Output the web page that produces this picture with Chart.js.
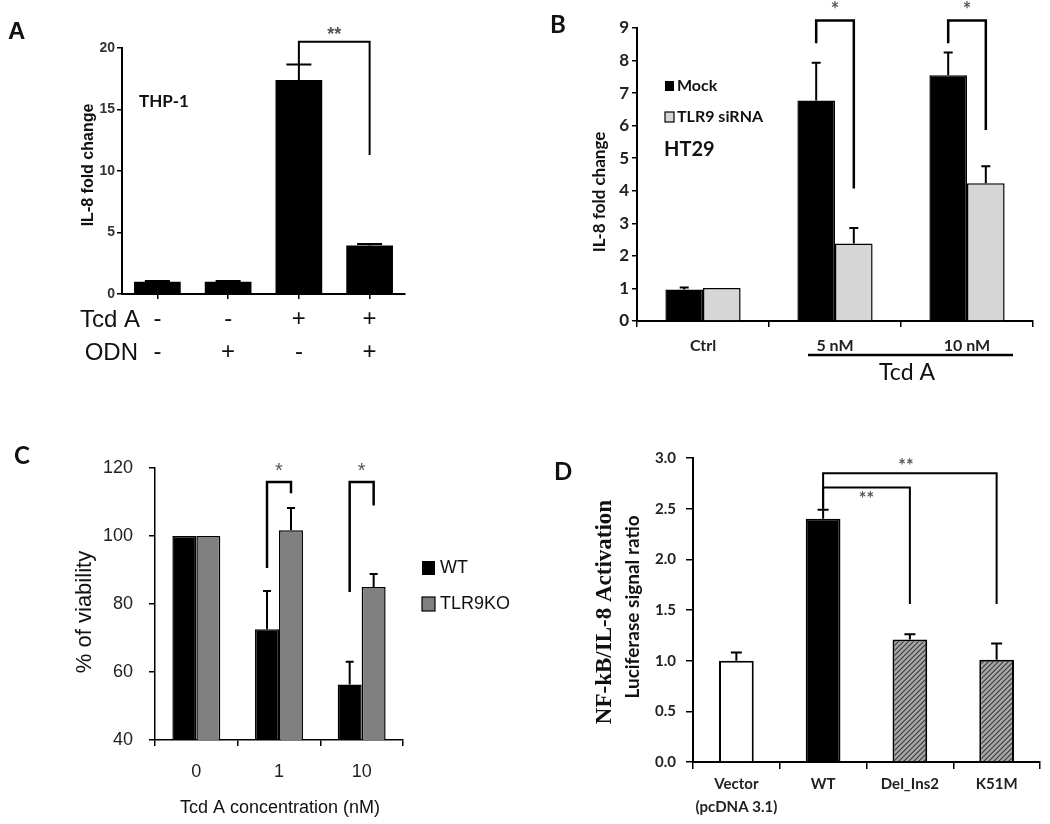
<!DOCTYPE html>
<html lang="en">
<head>
<meta charset="UTF-8">
<title>Tcd A / TLR9 figure</title>
<script src="https://cdn.jsdelivr.net/npm/chart.js"></script>
<style>
  body { margin: 0; background: #fff; }
  #fig { position: relative; width: 1050px; height: 824px; }
  canvas { position: absolute; }
</style>
</head>
<body>
<div id="fig">
  <canvas id="chartA" width="520" height="420" style="left:0;top:0"></canvas>
  <canvas id="chartB" width="530" height="420" style="left:520px;top:0"></canvas>
  <canvas id="chartC" width="520" height="404" style="left:0;top:420px"></canvas>
  <canvas id="chartD" width="530" height="404" style="left:520px;top:420px"></canvas>
</div>
<script>
// --- A: THP-1, IL-8 fold change
const labelsA = [['-', '-'], ['-', '+'], ['+', '-'], ['+', '+']];
const valuesA = [1.0, 1.0, 17.4, 3.95];
const errorsA = [0.05, 0.05, 1.25, 0.12];

// --- B: HT29, mock vs TLR9 siRNA
const labelsB = ['Ctrl', '5 nM', '10 nM'];
const mockB = [0.97, 6.77, 7.55];
const mockErrB = [0.06, 1.16, 0.7];
const sirnaB = [1.01, 2.38, 4.23];
const sirnaErrB = [0, 0.48, 0.52];

// --- C: % viability, WT vs TLR9KO
const labelsC = ['0', '1', '10'];
const wtC = [100, 72.6, 56.3];
const wtErrC = [0, 11.2, 6.7];
const koC = [100, 101.7, 85];
const koErrC = [0, 6.5, 3.8];

// --- D: luciferase signal ratio
const labelsD = [['Vector', '(pcDNA 3.1)'], 'WT', 'Del_Ins2', 'K51M'];
const valuesD = [1.0, 2.40, 1.21, 1.01];
const errorsD = [0.08, 0.09, 0.05, 0.16];

Chart.defaults.font.family = "'Liberation Sans', Arial, sans-serif";
Chart.defaults.color = '#222';
Chart.defaults.animation = false;

const CAL = "Lato, 'Noto Sans', sans-serif";

function fixWidth(w) { return s => { s.width = w; }; }
function fixHeight(h) { return s => { s.height = h; }; }

function hatch() {
    const c = document.createElement('canvas');
    c.width = 5; c.height = 5;
    const g = c.getContext('2d');
    g.fillStyle = '#a8a8a8';
    g.fillRect(0, 0, 5, 5);
    g.strokeStyle = '#3c3c3c';
    g.lineWidth = 1.2;
    g.beginPath();
    g.moveTo(0, 5); g.lineTo(5, 0);
    g.moveTo(-1, 1); g.lineTo(1, -1);
    g.moveTo(4, 6); g.lineTo(6, 4);
    g.stroke();
    return g.createPattern(c, 'repeat');
}

// error bars, significance brackets and free text drawn on top of the bars
function overlay(cfg) {
    return {
        id: 'overlay',
        afterDatasetsDraw(chart) {
            const ctx = chart.ctx, y = chart.scales.y;
            ctx.save();
            ctx.strokeStyle = '#000';
            chart.data.datasets.forEach((ds, d) => {
                if (!ds.errors) return;
                chart.getDatasetMeta(d).data.forEach((bar, i) => {
                    const err = ds.errors[i];
                    if (!err) return;
                    const top = y.getPixelForValue(ds.data[i] + err);
                    ctx.lineWidth = cfg.errWidth;
                    ctx.beginPath();
                    ctx.moveTo(bar.x, bar.y);
                    ctx.lineTo(bar.x, top);
                    ctx.moveTo(bar.x - cfg.cap / 2, top);
                    ctx.lineTo(bar.x + cfg.cap / 2, top);
                    ctx.stroke();
                });
            });
            (cfg.brackets || []).forEach(b => {
                const x1 = chart.getDatasetMeta(b.from[0]).data[b.from[1]].x;
                const x2 = chart.getDatasetMeta(b.to[0]).data[b.to[1]].x;
                const yt = y.getPixelForValue(b.top);
                ctx.lineWidth = cfg.bracketWidth;
                ctx.beginPath();
                ctx.moveTo(x1, y.getPixelForValue(b.legFrom));
                ctx.lineTo(x1, yt);
                ctx.lineTo(x2, yt);
                ctx.lineTo(x2, y.getPixelForValue(b.legTo));
                ctx.stroke();
                ctx.fillStyle = '#555';
                ctx.font = cfg.starFont;
                ctx.textAlign = 'center';
                ctx.textBaseline = 'middle';
                ctx.fillText(b.text, (x1 + x2) / 2 + (b.dx || 0), yt + b.dy);
            });
            (cfg.texts || []).forEach(t => {
                ctx.save();
                ctx.translate(t.x, t.y);
                if (t.rot) ctx.rotate(-Math.PI / 2);
                ctx.font = t.font;
                ctx.fillStyle = t.color || '#111';
                ctx.textAlign = t.align || 'center';
                ctx.textBaseline = 'middle';
                ctx.fillText(t.t, 0, 0);
                ctx.restore();
            });
            if (cfg.extra) cfg.extra(chart, ctx);
            ctx.restore();
        }
    };
}

function axisGrid(len, offset) {
    return { drawOnChartArea: false, drawTicks: true, tickLength: len, color: '#000', lineWidth: 1.5, offset: offset };
}

// ---------- A ----------
new Chart(document.getElementById('chartA'), {
    type: 'bar',
    data: {
        labels: labelsA,
        datasets: [{ data: valuesA, errors: errorsA, backgroundColor: '#000', barPercentage: 0.66, categoryPercentage: 1 }]
    },
    options: {
        responsive: false,
        layout: { padding: { top: 48, right: 115, left: 0, bottom: 0 } },
        plugins: { legend: { display: false }, tooltip: { enabled: false } },
        scales: {
            x: {
                grid: axisGrid(5, false),
                border: { color: '#000', width: 2 },
                ticks: { font: { size: 24, lineHeight: 33 / 24 }, color: '#111', padding: 4, maxRotation: 0, minRotation: 0, autoSkip: false },
                afterFit: fixHeight(126)
            },
            y: {
                min: 0, max: 20,
                grid: axisGrid(5, false),
                border: { color: '#000', width: 2 },
                ticks: { stepSize: 5, font: { size: 14, weight: 'bold' }, color: '#333', padding: 2 },
                afterFit: fixWidth(122)
            }
        }
    },
    plugins: [overlay({
        cap: 25, errWidth: 2, bracketWidth: 2, starFont: "bold 18px 'Liberation Sans'",
        brackets: [{ from: [0, 2], to: [0, 3], top: 20.5, legFrom: 18.7, legTo: 11.3, text: '**', dy: -7 }],
        texts: [
            { t: 'A', x: 8, y: 32, font: "bold 24px 'Liberation Sans'", align: 'left' },
            { t: 'THP-1', x: 139, y: 102, font: "bold 17px " + CAL, align: 'left' },
            { t: 'IL-8 fold change', x: 89, y: 165, rot: true, font: "bold 16px 'Liberation Sans'" },
            { t: 'Tcd A', x: 140, y: 320, font: "24px 'Liberation Sans'", align: 'right' },
            { t: 'ODN', x: 138, y: 353, font: "24px 'Liberation Sans'", align: 'right' }
        ]
    })]
});

// ---------- B ----------
new Chart(document.getElementById('chartB'), {
    type: 'bar',
    data: {
        labels: labelsB,
        datasets: [
            { label: 'Mock', data: mockB, errors: mockErrB, backgroundColor: '#000', borderColor: '#000', borderWidth: 1.5, barPercentage: 1, categoryPercentage: 0.57 },
            { label: 'TLR9 siRNA', data: sirnaB, errors: sirnaErrB, backgroundColor: '#d6d6d6', borderColor: '#000', borderWidth: 1.5, barPercentage: 1, categoryPercentage: 0.57 }
        ]
    },
    options: {
        responsive: false,
        layout: { padding: { top: 28, right: 17, left: 0, bottom: 0 } },
        plugins: { legend: { display: false }, tooltip: { enabled: false } },
        scales: {
            x: {
                grid: axisGrid(6, true),
                border: { color: '#000', width: 2 },
                ticks: { font: { family: CAL, size: 16, weight: 'bold' }, color: '#222', padding: 9, maxRotation: 0, autoSkip: false },
                afterFit: fixHeight(99)
            },
            y: {
                min: 0, max: 9,
                grid: axisGrid(5, false),
                border: { color: '#000', width: 2 },
                ticks: { stepSize: 1, font: { family: CAL, size: 17, weight: 'bold' }, color: '#222', padding: 3 },
                afterFit: fixWidth(117)
            }
        }
    },
    plugins: [overlay({
        cap: 9, errWidth: 2, bracketWidth: 2.5, starFont: "bold 20px " + CAL,
        brackets: [
            { from: [0, 1], to: [1, 1], top: 9.23, legFrom: 8.53, legTo: 4.07, text: '*', dy: -10 },
            { from: [0, 2], to: [1, 2], top: 9.23, legFrom: 8.53, legTo: 5.87, text: '*', dy: -10 }
        ],
        texts: [
            { t: 'B', x: 30, y: 25, font: "bold 24px " + CAL, align: 'left' },
            { t: 'IL-8 fold change', x: 80, y: 192, rot: true, font: "bold 17px " + CAL },
            { t: 'Mock', x: 157, y: 86, font: "bold 16px " + CAL, align: 'left' },
            { t: 'TLR9 siRNA', x: 157, y: 117, font: "bold 16px " + CAL, align: 'left' },
            { t: 'HT29', x: 144, y: 150, font: "bold 20px " + CAL, align: 'left' },
            { t: 'Tcd A', x: 387, y: 373, font: "23px " + CAL }
        ],
        extra(chart, ctx) {
            // legend swatches
            ctx.fillStyle = '#000';
            ctx.fillRect(145, 81, 9, 10);
            ctx.fillStyle = '#d6d6d6';
            ctx.fillRect(145, 112, 9, 10);
            ctx.lineWidth = 1.2;
            ctx.strokeRect(145, 112, 9, 10);
            // Tcd A underline spanning the treated groups
            const xs = chart.scales.x;
            ctx.lineWidth = 2.5;
            ctx.beginPath();
            ctx.moveTo(xs.getPixelForValue(1) - 27, 355);
            ctx.lineTo(xs.getPixelForValue(2) + 46, 355);
            ctx.stroke();
        }
    })]
});

// ---------- C ----------
new Chart(document.getElementById('chartC'), {
    type: 'bar',
    data: {
        labels: labelsC,
        datasets: [
            { label: 'WT', data: wtC, errors: wtErrC, backgroundColor: '#000', borderColor: '#000', borderWidth: 1.5, barPercentage: 1, categoryPercentage: 0.58 },
            { label: 'TLR9KO', data: koC, errors: koErrC, backgroundColor: '#808080', borderColor: '#000', borderWidth: 1.5, barPercentage: 1, categoryPercentage: 0.58 }
        ]
    },
    options: {
        responsive: false,
        layout: { padding: { top: 48, right: 117, left: 0, bottom: 0 } },
        plugins: { legend: { display: false }, tooltip: { enabled: false } },
        scales: {
            x: {
                grid: axisGrid(6, true),
                border: { color: '#000', width: 1.5 },
                ticks: { font: { size: 18 }, color: '#222', padding: 15, maxRotation: 0, autoSkip: false },
                afterFit: fixHeight(84)
            },
            y: {
                min: 40, max: 120,
                grid: axisGrid(6, false),
                border: { color: '#000', width: 1.5 },
                ticks: { stepSize: 20, font: { size: 18 }, color: '#222', padding: 16 },
                afterFit: fixWidth(155)
            }
        }
    },
    plugins: [overlay({
        cap: 8, errWidth: 2, bracketWidth: 2.5, starFont: "20px 'Liberation Sans'",
        brackets: [
            { from: [0, 1], to: [1, 1], top: 115.9, legFrom: 90.6, legTo: 112.6, text: '*', dy: -10 },
            { from: [0, 2], to: [1, 2], top: 115.9, legFrom: 83.5, legTo: 109, text: '*', dy: -10 }
        ],
        texts: [
            { t: 'C', x: 14, y: 36, font: "bold 24px " + CAL, align: 'left' },
            { t: '% of viability', x: 85, y: 192, rot: true, font: "22px 'Liberation Sans'" },
            { t: 'Tcd A concentration (nM)', x: 280, y: 388, font: "18px 'Liberation Sans'" },
            { t: 'WT', x: 440, y: 148, font: "18px 'Liberation Sans'", align: 'left' },
            { t: 'TLR9KO', x: 440, y: 184, font: "18px 'Liberation Sans'", align: 'left' }
        ],
        extra(chart, ctx) {
            ctx.fillStyle = '#000';
            ctx.fillRect(422, 141, 13, 14);
            ctx.fillStyle = '#808080';
            ctx.fillRect(422, 177, 13, 14);
            ctx.lineWidth = 1.2;
            ctx.strokeRect(422, 177, 13, 14);
        }
    })]
});

// ---------- D ----------
const hatchFill = hatch();
new Chart(document.getElementById('chartD'), {
    type: 'bar',
    data: {
        labels: labelsD,
        datasets: [{
            data: valuesD, errors: errorsD,
            backgroundColor: ['#fff', '#000', hatchFill, hatchFill],
            borderColor: '#000', borderWidth: 2,
            barPercentage: 0.4, categoryPercentage: 1
        }]
    },
    options: {
        responsive: false,
        layout: { padding: { top: 38, right: 10, left: 0, bottom: 0 } },
        plugins: { legend: { display: false }, tooltip: { enabled: false } },
        scales: {
            x: {
                grid: axisGrid(7, true),
                border: { color: '#000', width: 2 },
                ticks: { font: { family: CAL, size: 15, weight: 'bold', lineHeight: 23 / 15 }, color: '#222', padding: 4, maxRotation: 0, autoSkip: false },
                afterFit: fixHeight(62)
            },
            y: {
                min: 0, max: 3,
                grid: axisGrid(7, false),
                border: { color: '#000', width: 2 },
                ticks: { stepSize: 0.5, font: { family: CAL, size: 15, weight: 'bold' }, color: '#222', padding: 10, callback: v => v.toFixed(1) },
                afterFit: fixWidth(173)
            }
        }
    },
    plugins: [overlay({
        cap: 11, errWidth: 2, bracketWidth: 2, starFont: "bold 18px " + CAL,
        brackets: [
            { from: [0, 1], to: [0, 3], top: 2.85, legFrom: 2.5, legTo: 1.56, text: '**', dy: -7, dx: -4 },
            { from: [0, 1], to: [0, 2], top: 2.71, legFrom: 2.5, legTo: 1.56, text: '**', dy: 12 }
        ],
        texts: [
            { t: 'D', x: 34, y: 52, font: "bold 24px " + CAL, align: 'left' },
            { t: 'NF-kB/IL-8 Activation', x: 85, y: 192, rot: true, font: "bold 23px 'Liberation Serif'" },
            { t: 'Luciferase signal ratio', x: 113, y: 187, rot: true, font: "bold 19px " + CAL }
        ]
    })]
});
</script>
</body>
</html>
